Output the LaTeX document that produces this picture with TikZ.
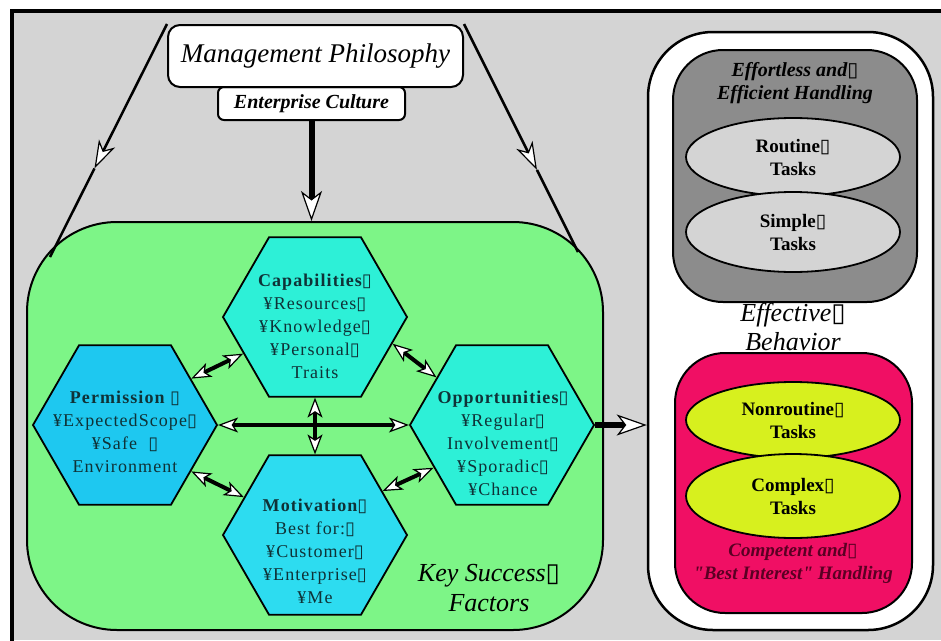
\documentclass[tikz,border=0pt]{standalone}
\usepackage{fontspec}
\setmainfont{Liberation Serif}
\newfontfamily\symfont{DejaVu Sans}
\newfontfamily\hexfont[LetterSpace=6]{Liberation Serif}
\usetikzlibrary{arrows.meta,shapes.geometric,calc}
\newcommand\tofu{{\symfont\char"25AF}}
\newcommand\sq{\XeTeXglyph\XeTeXcharglyph"22\relax}
\definecolor{bggray}{RGB}{212,212,212}
\definecolor{ksfgreen}{RGB}{125,245,135}
\definecolor{capc}{RGB}{45,240,215}
\definecolor{permc}{RGB}{30,200,240}
\definecolor{motc}{RGB}{45,220,240}
\definecolor{hextxt}{RGB}{15,50,55}
\definecolor{grayband}{RGB}{140,140,140}
\definecolor{lightell}{RGB}{212,212,212}
\definecolor{pinkband}{RGB}{240,15,100}
\definecolor{limeell}{RGB}{215,240,30}
\definecolor{maroontxt}{RGB}{90,0,35}
\tikzset{
  hexbox/.style={regular polygon, regular polygon sides=6, minimum size=184pt,
    inner sep=0pt, draw=black, line width=1.8pt},
  hextext/.style={align=center, text=hextxt, inner sep=0pt,
    font=\hexfont\fontsize{18}{23}\selectfont},
  ellbox/.style={ellipse, draw=black, line width=1.8pt, minimum width=214pt,
    inner sep=0pt, align=center, font=\bfseries\fontsize{19}{23}\selectfont},
  wtip/.tip={Stealth[length=20pt, width=15pt, inset=5pt, fill=white, line width=1.2pt]},
  btip/.tip={Stealth[length=30pt, width=21pt, inset=8pt, fill=white, line width=1.2pt]},
  stip/.tip={Stealth[length=28pt, width=18pt, inset=8pt, fill=white, line width=1.2pt]},
  dblarrow/.style={line width=4pt, wtip-wtip},
  bigarrow/.style={line width=6pt, -btip},
  thinline/.style={line width=2.5pt},
}
\begin{document}
\begin{tikzpicture}[x=1pt,y=-1pt]
\useasboundingbox (0,0) rectangle (941,640);
\fill[white] (0,0) rectangle (941,640);
\fill[bggray] (12,11) rectangle (941,640);
\draw[line width=4pt] (12,650) -- (12,11) -- (950,11);

% key success factors region
\node[draw=black, fill=ksfgreen, line width=2pt, rounded corners=90pt,
  minimum width=576pt, minimum height=408pt, inner sep=0pt] (ksf) at (315,426) {};

% top boxes
\node[draw=black, fill=white, line width=2pt, rounded corners=6pt,
  minimum width=187pt, minimum height=33pt, inner sep=0pt,
  font=\bfseries\itshape\fontsize{20}{24}\selectfont] (ec) at (311.5,103.5) {Enterprise Culture};
\node[draw=black, fill=white, line width=2pt, rounded corners=12pt,
  minimum width=295pt, minimum height=62pt, inner sep=0pt,
  font=\itshape\fontsize{27}{30}\selectfont] (mp) at (315.5,56) {Management Philosophy};

% lines from management philosophy
\coordinate (gl) at (50,257);
\coordinate (gr) at (578,252);
\coordinate (lm) at ($(mp.north west)!0.62!(gl)$);
\coordinate (rm) at ($(mp.north east)!0.64!(gr)$);
\draw[thinline, -stip] (mp.north west) -- (lm);
\draw[thinline] (lm) -- (gl);
\draw[thinline, -stip] (mp.north east) -- (rm);
\draw[thinline] (rm) -- (gr);
\draw[bigarrow] (ec.south) -- (ec.south |- ksf.north);

% hexagons
\node[hexbox, fill=capc] (cap) at (315,317) {};
\node[hexbox, fill=permc] (perm) at (125,425) {};
\node[hexbox, fill=capc] (opp) at (502,425) {};
\node[hexbox, fill=motc] (mot) at (315,535) {};

\node[hextext] (captxt) at (315,326) {\textbf{Capabilities\tofu}\\¥Resources\tofu\\¥Knowledge\tofu\\¥Personal\tofu\\Traits};
\node[hextext] (permtxt) at (125,432) {\textbf{Permission \tofu}\\¥ExpectedScope\tofu\\¥Safe \ \tofu\\Environment};
\node[hextext] (opptxt) at (503,443) {\textbf{Opportunities\tofu}\\¥Regular\tofu\\Involvement\tofu\\¥Sporadic\tofu\\¥Chance};
\node[hextext] (mottxt) at (315,551) {\textbf{Motivation\tofu}\\Best for:\tofu\\¥Customer\tofu\\¥Enterprise\tofu\\¥Me};

% connectors between hexagons
\draw[dblarrow] (perm.0) -- (opp.180);
\draw[dblarrow] (cap.270) -- (mot.90);
\draw[dblarrow] (perm.35) -- (cap.207);
\draw[dblarrow] (perm.325) -- (mot.152);
\draw[dblarrow] (cap.341) -- (opp.144);
\draw[dblarrow] (mot.33) -- (opp.212);

\node[align=center, inner sep=0pt, font=\itshape\fontsize{26}{30}\selectfont] (ksftxt) at (489,588) {Key Success\tofu\\Factors};

% right panel
\node[draw=black, fill=white, line width=2.5pt, rounded corners=65pt,
  minimum width=285pt, minimum height=598pt, inner sep=0pt] (panel) at (790.5,331) {};
\draw[bigarrow] (opp.0) -- (opp.0 -| panel.west);

\node[draw=black, fill=grayband, line width=2pt, rounded corners=50pt,
  minimum width=244pt, minimum height=252pt, inner sep=0pt] (easy) at (795,176) {};
\node[align=center, inner sep=0pt, font=\bfseries\itshape\fontsize{20}{23}\selectfont] (easytxt) at (795,83.5) {Effortless and\tofu\\Efficient Handling};
\node[ellbox, fill=lightell, minimum height=78pt] (routine) at (793,157) {Routine\tofu\\Tasks};
\node[ellbox, fill=lightell, minimum height=80pt] (simple) at (793,232) {Simple\tofu\\Tasks};

\node[align=center, inner sep=0pt, font=\itshape\fontsize{26}{29}\selectfont] (efftxt) at (793,327) {Effective\tofu\\Behavior};

\node[draw=black, fill=pinkband, line width=2pt, rounded corners=50pt,
  minimum width=237pt, minimum height=260pt, inner sep=0pt] (hard) at (793.5,483) {};
\node[ellbox, fill=limeell, minimum height=76pt] (nonroutine) at (793,420) {Nonroutine\tofu\\Tasks};
\node[ellbox, fill=limeell, minimum height=84pt] (complex) at (793,496) {Complex\tofu\\Tasks};
\node[align=center, inner sep=0pt, text=maroontxt, font=\bfseries\itshape\fontsize{19}{23}\selectfont] (hardtxt) at (793,563.5) {Competent and\tofu\\\sq Best Interest\sq\ Handling};
\end{tikzpicture}
\end{document}
